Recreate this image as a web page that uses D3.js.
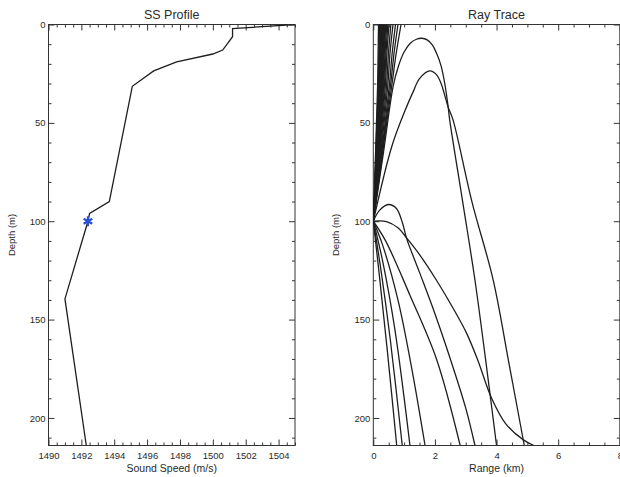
<!DOCTYPE html>
<html lang="en">
<head>
<meta charset="utf-8">
<script src="https://d3js.org/d3.v7.min.js"></script>
<style>
  body { margin: 0; background: #fff; }
  svg text { font-family: "Liberation Sans", Arial, sans-serif; fill: #2a2a2a; }
  .frame { fill: none; stroke: #333; stroke-width: 1; }
  .tick line { stroke: #333; }
  .curve { fill: none; stroke: #1e1e1e; stroke-width: 1.3; }
</style>
</head>
<body>
<svg width="620" height="477"></svg>
<script>
// sound speed profile (m/s vs depth m)
var ssDepth = [0, 2.1, 6.2, 13, 15, 19, 23.6, 31.4, 90, 96, 100, 139.5, 214];
var ssSpeed = [1505, 1501.2, 1501.2, 1500.6, 1500.0, 1497.8, 1496.4, 1495.1, 1493.7, 1492.5, 1492.4, 1491.0, 1492.3];
var sourceSpeed = 1492.4, sourceDepth = 100;

var speedTicks = [1490, 1492, 1494, 1496, 1498, 1500, 1502, 1504];
var rangeTicks = [0, 2, 4, 6, 8];
var depthTicks = [0, 50, 100, 150, 200];

// rays, [range km, depth m] pairs
// steep rays going up to the surface (the dark bundle)
var upRays = [
  [[0,100],[0.14,31],[0.155,15],[0.17,0]],
  [[0,100],[0.16,31],[0.18,15],[0.20,0]],
  [[0,100],[0.18,31],[0.20,15],[0.22,0]],
  [[0,100],[0.195,31],[0.22,15],[0.24,0]],
  [[0,100],[0.21,31],[0.235,15],[0.26,0]],
  [[0,100],[0.225,31],[0.25,15],[0.28,0]],
  [[0,100],[0.24,31],[0.27,15],[0.30,0]],
  [[0,100],[0.255,31],[0.285,15],[0.32,0]],
  [[0,100],[0.27,31],[0.30,15],[0.34,0]],
  [[0,100],[0.285,31],[0.32,15],[0.36,0]],
  [[0,100],[0.30,31],[0.335,15],[0.38,0]],
  [[0,100],[0.315,31],[0.355,15],[0.405,0]],
  [[0,100],[0.335,31],[0.38,15],[0.435,0]],
  [[0,100],[0.36,31],[0.41,15],[0.47,0]],
  [[0,100],[0.39,31],[0.44,15],[0.51,0]],
  [[0,100],[0.43,31],[0.49,15],[0.57,0]],
  [[0,100],[0.47,31],[0.54,15],[0.64,0]],
  [[0,100],[0.52,31],[0.61,15],[0.72,0]],
  [[0,100],[0.56,31],[0.67,15],[0.80,0]],
  [[0,100],[0.60,31],[0.74,15],[0.90,0]]
];
// rays turning in the upper layer
var archHigh = [[0,100],[0.33,65],[0.65,31],[0.82,21],[1.0,14],[1.2,9.5],[1.4,7.5],[1.57,7],[1.75,7.8],[1.92,10.5],[2.05,14.5],[2.2,21],[2.33,31],[2.43,42],[2.48,48.6],[2.9,90],[3.3,130],[3.65,171],[4.0,214]];
var archLow = [[0,100],[0.6,62],[1.05,43],[1.3,34],[1.5,27.5],[1.84,23.6],[2.05,25.5],[2.2,30],[2.3,35],[2.43,42],[2.59,48.6],[3.2,90],[3.89,129.8],[4.4,172],[4.9,214]];
// near horizontal rays around the source
var rayFlat = [[0,100],[0.43,100.2],[0.81,103.5],[1.08,108.5],[1.5,117],[2.05,130],[2.6,144.5],[3.03,157],[3.4,171],[3.84,190],[4.3,203],[4.86,211],[5.21,214]];
var raySmallArch = [[0,100],[0.2,94.5],[0.49,91.5],[0.75,93.5],[0.95,101],[1.08,108.7],[1.5,126],[2.0,147],[2.5,170],[3.0,195],[3.3,214]];
// rays going down to the bottom
var downRays = [
  [[0,100],[0.2,128],[0.45,165],[0.76,214]],
  [[0,100],[0.25,125],[0.55,160],[0.94,214]],
  [[0,100],[0.3,120],[0.7,155],[1.19,214]],
  [[0,100],[0.3,112],[0.8,140],[1.25,175],[1.68,214]],
  [[0,100],[0.4,110],[1.2,138],[2.05,170],[2.82,214]]
];

var svg = d3.select("svg");
var yTop = 24.5, yBot = 445.5;
var y = d3.scaleLinear().domain([0, 214]).range([yTop, yBot]);
var xs = d3.scaleLinear().domain([1490, 1505]).range([48.5, 295]);
var xr = d3.scaleLinear().domain([0, 8]).range([373.3, 619.8]);

function panel(id, x, title, xlabel, majors, minorStep, fmt) {
  var g = svg.append("g");
  var x0 = x.range()[0], x1 = x.range()[1];
  var d = x.domain();
  var minors = d3.range(d[0], d[1] + 0.001, minorStep).filter(function (v) { return majors.indexOf(v) < 0; });
  var yMinors = d3.range(0, 214, 10).filter(function (v) { return depthTicks.indexOf(v) < 0; });

  // bottom axis with labels
  g.append("g").attr("transform", "translate(0," + yBot + ")")
    .call(d3.axisBottom(x).tickValues(majors).tickSizeInner(-6).tickSizeOuter(0).tickPadding(7).tickFormat(fmt))
    .call(function (a) { a.select(".domain").remove(); a.selectAll("text").attr("font-size", 9.5); });
  g.append("g").attr("transform", "translate(0," + yBot + ")")
    .call(d3.axisBottom(x).tickValues(minors).tickSizeInner(-3).tickSizeOuter(0).tickFormat(""))
    .call(function (a) { a.select(".domain").remove(); });
  // top mirror ticks
  g.append("g").attr("transform", "translate(0," + yTop + ")")
    .call(d3.axisTop(x).tickValues(majors).tickSizeInner(-6).tickSizeOuter(0).tickFormat(""))
    .call(function (a) { a.select(".domain").remove(); });
  g.append("g").attr("transform", "translate(0," + yTop + ")")
    .call(d3.axisTop(x).tickValues(minors).tickSizeInner(-3).tickSizeOuter(0).tickFormat(""))
    .call(function (a) { a.select(".domain").remove(); });
  // left axis with labels
  g.append("g").attr("transform", "translate(" + x0 + ",0)")
    .call(d3.axisLeft(y).tickValues(depthTicks).tickSizeInner(-6).tickSizeOuter(0).tickPadding(3))
    .call(function (a) { a.select(".domain").remove(); a.selectAll("text").attr("font-size", 9.5); });
  g.append("g").attr("transform", "translate(" + x0 + ",0)")
    .call(d3.axisLeft(y).tickValues(yMinors).tickSizeInner(-3).tickSizeOuter(0).tickFormat(""))
    .call(function (a) { a.select(".domain").remove(); });
  // right mirror ticks
  g.append("g").attr("transform", "translate(" + x1 + ",0)")
    .call(d3.axisRight(y).tickValues(depthTicks).tickSizeInner(-6).tickSizeOuter(0).tickFormat(""))
    .call(function (a) { a.select(".domain").remove(); });
  g.append("g").attr("transform", "translate(" + x1 + ",0)")
    .call(d3.axisRight(y).tickValues(yMinors).tickSizeInner(-3).tickSizeOuter(0).tickFormat(""))
    .call(function (a) { a.select(".domain").remove(); });

  g.append("rect").attr("class", "frame")
    .attr("x", x0).attr("y", yTop).attr("width", x1 - x0).attr("height", yBot - yTop);

  g.append("text").attr("x", (x0 + x1) / 2).attr("y", 19)
    .attr("text-anchor", "middle").attr("font-size", 12.5).text(title);
  g.append("text").attr("x", (x0 + x1) / 2).attr("y", 472)
    .attr("text-anchor", "middle").attr("font-size", 10.5).text(xlabel);
  g.append("text").attr("transform", "translate(" + (x0 - 34) + "," + ((yTop + yBot) / 2) + ") rotate(-90)")
    .attr("text-anchor", "middle").attr("font-size", 9.5).text("Depth (m)");

  svg.append("clipPath").attr("id", id)
    .append("rect").attr("x", x0).attr("y", yTop).attr("width", x1 - x0).attr("height", yBot - yTop);
  return svg.append("g").attr("clip-path", "url(#" + id + ")");
}

// left panel: sound speed profile
var p1 = panel("clipSS", xs, "SS Profile", "Sound Speed (m/s)", speedTicks, 0.5, d3.format("d"));
var ssLine = d3.line().x(function (d) { return xs(d[0]); }).y(function (d) { return y(d[1]); });
p1.append("path").attr("class", "curve")
  .attr("d", ssLine(d3.zip(ssSpeed, ssDepth)));
var star = d3.symbol().type(d3.symbolAsterisk || d3.symbolCross).size(70);
p1.append("path").attr("d", star())
  .attr("transform", "translate(" + xs(sourceSpeed) + "," + y(sourceDepth) + ")")
  .attr("fill", "none").attr("stroke", "#2b4fd6").attr("stroke-width", 2.2);

// right panel: ray trace
var p2 = panel("clipRay", xr, "Ray Trace", "Range (km)", rangeTicks, 0.5, d3.format("d"));
var rayLine = d3.line().curve(d3.curveCatmullRom.alpha(0.5))
  .x(function (d) { return xr(d[0]); }).y(function (d) { return y(d[1]); });
var allRays = upRays.concat([archHigh, archLow, rayFlat, raySmallArch], downRays);
p2.selectAll("path.ray").data(allRays).enter().append("path")
  .attr("class", "curve ray").attr("d", rayLine);
</script>
</body>
</html>
